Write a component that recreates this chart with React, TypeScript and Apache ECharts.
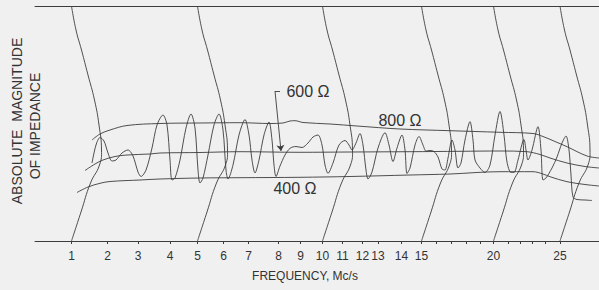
import React, { useEffect, useRef } from "react";
import * as echarts from "echarts";

// Frequency tick positions along the recorder chart (horizontal chart position) and their labels
const tickLabels = ["1", "2", "3", "4", "5", "6", "7", "8", "9", "10", "11", "12", "13", "14", "15", "20", "25"];
const tickPositions = [71.5, 107.5, 138, 170, 197.5, 223.5, 248.5, 278.5, 300.5, 322.5, 342.5, 362.5, 378, 401.5, 421.5, 493.5, 560];
const minorTickPositions = [436.5, 451.5, 466, 480, 508, 520, 532, 545];

// Chart-paper arcs, drawn at frequencies 1, 5, 10, 15, 20, 25
const arcPositions = [71.5, 197.5, 322.5, 421.5, 493.5, 560];

// Reference curves (position, magnitude)
const ref800: number[][] = [
  [92, 101], [100, 107], [110, 111], [127, 115.5], [160, 117.5], [200, 118], [240, 118.3], [270, 117.5],
  [283, 118], [290, 120], [295, 120.3], [303, 118.5], [330, 117], [357, 115], [400, 112], [450, 110.3],
  [500, 108.7], [533, 107.5], [543, 104.5], [555, 99.5], [567, 94.3], [587, 85], [599, 83],
];
const ref600: number[][] = [
  [85, 70.5], [95, 77], [103, 81], [115, 84.5], [127, 86], [150, 87], [160, 88], [200, 88.5], [240, 89.3],
  [300, 88.7], [350, 89], [410, 89.3], [460, 89.7], [500, 90], [527, 89.3], [540, 86.5], [550, 83],
  [567, 78], [585, 74.5], [599, 73],
];
const ref400: number[][] = [
  [77, 48.5], [88, 54], [100, 57.7], [110, 59.5], [140, 61], [160, 62], [200, 63], [240, 63.3], [300, 63.7],
  [350, 64.5], [410, 66], [450, 67], [500, 69.3], [533, 69.3], [543, 67], [550, 64.3], [567, 59.3],
  [585, 56.5], [599, 55],
];

// Measured impedance response
const response: number[][] = [
  [92, 78], [96, 96], [100, 103.5], [104, 100], [108, 88], [112, 80], [116, 81], [122, 88], [128, 91],
  [133, 85], [138, 69], [141, 64.5], [146, 71], [152, 93], [157, 116], [163, 126], [167, 116], [170, 81],
  [172, 61], [175, 63], [180, 81], [186, 113], [191, 127], [195, 113], [198, 71], [200, 58], [203, 63],
  [208, 86], [214, 116], [219, 127], [223, 111], [226, 71], [228, 62], [233, 76], [239, 106], [245, 121.5],
  [249, 106], [252, 81], [255, 68], [259, 81], [264, 106], [269, 119], [272, 101], [274, 76], [276, 64.5],
  [280, 75], [285, 86], [290, 92.7], [296, 94.5], [302, 93.5], [308, 98], [313, 104], [318, 106], [322, 96],
  [325, 76], [328, 67.7], [333, 78], [339, 96], [345, 100.5], [349, 96], [352, 91], [356, 98], [360, 107.5],
  [363, 96], [366, 71], [368, 62], [372, 69], [378, 93], [385, 108.3], [389, 96], [393, 79.5], [397, 93],
  [402, 106], [405, 91], [407, 67.5], [410, 73], [415, 96], [419, 104.5], [423, 96], [426, 90], [430, 90.5],
  [434, 89.5], [438, 84], [442, 72], [445, 71], [448, 83], [452, 101], [455, 91], [458, 73], [461, 78],
  [465, 101], [470, 119.3], [473, 101], [475, 81], [480, 73], [485, 68.5], [490, 76], [495, 106],
  [500, 129.5], [504, 106], [507, 79], [511, 68.5], [514, 68.5], [518, 81], [524, 101.5], [526, 91],
  [528, 81], [532, 91], [538, 114.3], [541, 91], [543, 61], [546, 63], [552, 73], [557, 84], [562, 98],
  [566, 105], [569, 91], [571, 66], [573, 44], [577, 41.5], [585, 41], [592, 40.5],
];

const INK = "#3c3c3c";
const FONT = "'Liberation Sans', Arial, sans-serif";

// shape of a chart-paper arc: [height, horizontal bulge in px]
const arcProfile = [
  [235, 0], [211, 4.5], [191, 10], [166, 16.5], [141, 23], [116, 27.5], [91, 30], [76, 28], [58, 19], [29, 9.5], [0, 0],
];

export default function App() {
  const ref = useRef<HTMLDivElement>(null);
  useEffect(() => {
    if (!ref.current) return;
    const chart = echarts.init(ref.current, null, { renderer: "svg" });
    const lineSeries = (name: string, data: number[][], extra: any = {}) => ({
      name,
      type: "line",
      data,
      smooth: 0.35,
      showSymbol: false,
      symbol: "none",
      silent: true,
      lineStyle: { color: INK, width: 0.9 },
      ...extra,
    });
    const labelOf = (v: number) => {
      let best = -1;
      let bd = 1e9;
      tickPositions.forEach((p, i) => {
        const d = Math.abs(p - v);
        if (d < bd) { bd = d; best = i; }
      });
      return bd < 0.5 ? tickLabels[best] : "";
    };
    const option: any = {
      animation: false,
      backgroundColor: "#f0f0f0",
      grid: { left: 35, right: 0, top: 6, bottom: 49, outerBoundsMode: "none" },
      xAxis: [
        {
          type: "value",
          min: 35,
          max: 599,
          axisLine: { show: true, lineStyle: { color: INK, width: 1 } },
          axisTick: {
            show: true,
            customValues: [...tickPositions, ...minorTickPositions],
            length: 3,
            lineStyle: { color: INK, width: 1 },
          },
          axisLabel: {
            customValues: tickPositions,
            formatter: (v: number) => labelOf(v),
            margin: 9,
            color: "#333",
            fontSize: 12,
            fontFamily: FONT,
          },
          splitLine: { show: false },
          name: "FREQUENCY, Mc/s",
          nameLocation: "middle",
          nameGap: 29,
          nameTextStyle: { color: "#333", fontSize: 12, fontFamily: FONT, padding: [0, 24, 0, 0] },
        },
        {
          type: "value",
          min: 35,
          max: 599,
          position: "top",
          axisLine: { show: true, lineStyle: { color: INK, width: 1 } },
          axisTick: { show: false },
          axisLabel: { show: false },
          splitLine: { show: false },
        },
      ],
      yAxis: { type: "value", min: 0, max: 235, show: false },
      graphic: [
        {
          type: "text", x: 17, y: 121, rotation: Math.PI / 2,
          style: { text: "ABSOLUTE  MAGNITUDE", fontSize: 14, fontFamily: FONT, fill: "#333", align: "center", verticalAlign: "middle" },
        },
        {
          type: "text", x: 35, y: 126, rotation: Math.PI / 2,
          style: { text: "OF IMPEDANCE", fontSize: 14, fontFamily: FONT, fill: "#333", align: "center", verticalAlign: "middle" },
        },
        {
          type: "text", x: 308, y: 91,
          style: { text: "600 Ω", fontSize: 16, fontFamily: FONT, fill: "#333", align: "center", verticalAlign: "middle" },
        },
        {
          type: "text", x: 400, y: 120,
          style: { text: "800 Ω", fontSize: 16, fontFamily: FONT, fill: "#333", align: "center", verticalAlign: "middle" },
        },
        {
          type: "text", x: 295, y: 188,
          style: { text: "400 Ω", fontSize: 16, fontFamily: FONT, fill: "#333", align: "center", verticalAlign: "middle" },
        },
      ],
      series: [
        {
          type: "custom",
          coordinateSystem: "cartesian2d",
          silent: true,
          data: arcPositions.map((p) => [p, 0]),
          encode: { x: 0, y: 1 },
          renderItem: (params: any, api: any) => {
            const base = api.value(0);
            const pts = arcProfile.map(([v, dx]) => {
              const c = api.coord([base, v]);
              return [c[0] + dx, c[1]];
            });
            return {
              type: "polyline",
              shape: { points: pts, smooth: 0.5 },
              style: { stroke: INK, lineWidth: 0.9, fill: null },
              silent: true,
            };
          },
        },
        lineSeries("800 Ω", ref800),
        lineSeries("600 Ω", ref600, {
          markLine: {
            silent: true,
            symbol: ["none", "none"],
            label: { show: false },
            lineStyle: { color: INK, width: 0.9, type: "solid" },
            data: [
              [{ coord: [275, 150] }, { coord: [281, 90], symbol: "arrow", symbolSize: 6 }],
              [{ coord: [275, 150] }, { coord: [280, 150] }],
            ],
          },
        }),
        lineSeries("400 Ω", ref400),
        lineSeries("response", response, { smooth: 0.3 }),
      ],
    };
    chart.setOption(option);
    return () => chart.dispose();
  }, []);
  return (
    <div
      ref={ref}
      style={{ position: "absolute", left: 0, top: 0, width: 599, height: 290, background: "#f0f0f0" }}
    />
  );
}
